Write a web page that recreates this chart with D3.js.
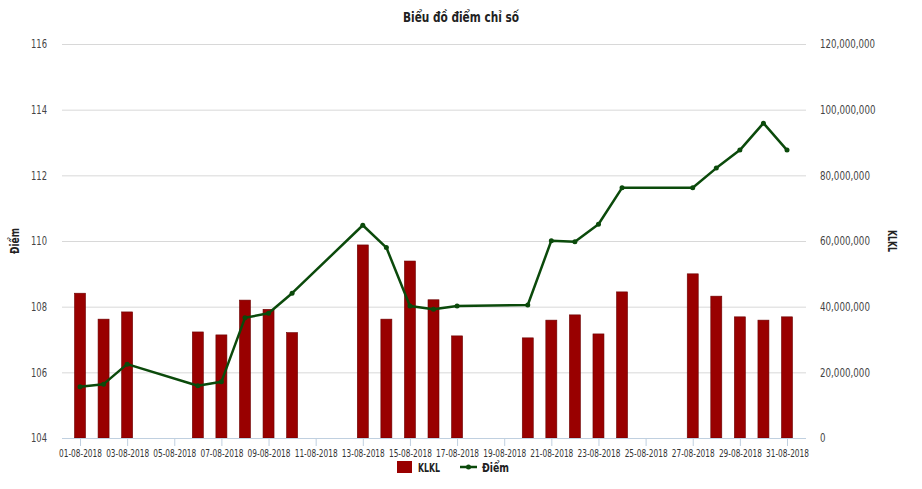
<!DOCTYPE html>
<html><head><meta charset="utf-8">
<script src="https://cdn.jsdelivr.net/npm/d3@7"></script>
<style>
body{margin:0;background:#fff;}
text{font-family:"DejaVu Sans Condensed","DejaVu Sans",sans-serif;font-stretch:condensed;}
</style></head>
<body><svg id="c" width="922" height="489"></svg>
<script>
const dates = ["01-08-2018","02-08-2018","03-08-2018","06-08-2018","07-08-2018","08-08-2018","09-08-2018","10-08-2018",
  "13-08-2018","14-08-2018","15-08-2018","16-08-2018","17-08-2018","20-08-2018","21-08-2018","22-08-2018","23-08-2018",
  "24-08-2018","27-08-2018","28-08-2018","29-08-2018","30-08-2018","31-08-2018"];
const volumes = [44.1,36.2,38.4,32.3,31.4,42.0,39.2,32.1,58.8,36.2,53.9,42.1,31.1,30.5,35.9,37.5,31.7,44.5,50.0,43.2,36.9,35.9,36.9].map(v=>v*1e6);
const points = [105.56,105.64,106.25,105.59,105.71,107.66,107.80,108.41,110.48,109.80,108.02,107.92,108.02,108.05,110.01,109.98,110.51,111.62,111.62,112.22,112.77,113.59,112.77];
const xTickLabels = ["01-08-2018","03-08-2018","05-08-2018","07-08-2018","09-08-2018","11-08-2018","13-08-2018","15-08-2018",
  "17-08-2018","19-08-2018","21-08-2018","23-08-2018","25-08-2018","27-08-2018","29-08-2018","31-08-2018"];
const leftTicks = [104,106,108,110,112,114,116];
const rightTicks = [0,20e6,40e6,60e6,80e6,100e6,120e6];

const parse = d3.timeParse("%d-%m-%Y");
const svg = d3.select("#c");
const L = 62, R = 806, T = 44, B = 438;
const x = d3.scaleTime().domain([parse("01-08-2018"), parse("31-08-2018")]).range([80, 787]);
const yL = d3.scaleLinear().domain([104,116]).range([B,T]);
const yR = d3.scaleLinear().domain([0,120e6]).range([B,T]);

// horizontally condense texts with a scale transform (k from first element's target width)
function condense(sel, targetFirst){
  const nodes = sel.nodes();
  if(!nodes.length) return;
  const k = targetFirst / nodes[0].getComputedTextLength();
  nodes.forEach(n=>{
    const tx = +n.getAttribute("x") || 0, ty = +n.getAttribute("y") || 0;
    const prev = n.getAttribute("transform") || "";
    n.setAttribute("x",0); n.setAttribute("y",0);
    n.setAttribute("transform", `${prev} translate(${tx},${ty}) scale(${k.toFixed(4)},1)`);
  });
}

// title
const title = svg.append("text").attr("x",461).attr("y",22).attr("text-anchor","middle")
  .attr("font-size",14).attr("font-weight","bold").attr("fill","#222").text("Biểu đồ điểm chỉ số");
condense(title, 116);

// gridlines
svg.append("g").selectAll("line").data(leftTicks).join("line")
  .attr("x1",L).attr("x2",R).attr("y1",d=>yL(d)+0.5).attr("y2",d=>yL(d)+0.5)
  .attr("stroke","#d8d8d8").attr("stroke-width",1);

// left axis
const gl = svg.append("g").attr("transform",`translate(${L},0)`)
  .call(d3.axisLeft(yL).tickValues(leftTicks).tickSize(0).tickPadding(15).tickFormat(d3.format("d")));
gl.select(".domain").remove();
gl.selectAll("text").attr("font-size",12).attr("fill","#444").attr("font-family",null);
condense(gl.selectAll("text"), 16);

// right axis
const gr = svg.append("g").attr("transform",`translate(${R},0)`)
  .call(d3.axisRight(yR).tickValues(rightTicks).tickSize(0).tickPadding(14).tickFormat(d3.format(",")));
gr.select(".domain").remove();
gr.selectAll("text").attr("font-size",12).attr("fill","#444").attr("font-family",null);
condense(gr.selectAll("text").filter(d=>d===120e6), 55);
condense(gr.selectAll("text").filter(d=>d!==120e6 && d!==0), 50);
condense(gr.selectAll("text").filter(d=>d===0), 5.5);

// axis titles
const t1 = svg.append("text").attr("transform","translate(19,241) rotate(-90)").attr("text-anchor","middle")
  .attr("font-size",13).attr("font-weight","bold").attr("fill","#222").text("Điểm");
condense(t1, 26);
const t2 = svg.append("text").attr("transform","translate(888,241) rotate(90)").attr("text-anchor","middle")
  .attr("font-size",13).attr("font-weight","bold").attr("fill","#222").text("KLKL");
condense(t2, 22);

// bars
const bw = 11;
svg.append("g").selectAll("rect").data(dates).join("rect")
  .attr("x",(d)=>x(parse(d))-bw/2).attr("y",(d,i)=>yR(volumes[i]))
  .attr("width",bw).attr("height",(d,i)=>B-yR(volumes[i]))
  .attr("fill","#990000").attr("stroke","#6b0000").attr("stroke-width",0.6);

// x axis
const gx = svg.append("g").attr("transform",`translate(0,${B})`)
  .call(d3.axisBottom(x).tickValues(xTickLabels.map(parse)).tickSize(8).tickPadding(3).tickFormat(d3.timeFormat("%d-%m-%Y")));
gx.select(".domain").attr("d",`M${L},0.5H${R}`).attr("stroke","#c0d0e0");
gx.selectAll(".tick line").attr("stroke","#c0d0e0");
gx.selectAll("text").attr("font-size",11).attr("fill","#333").attr("font-family",null);
condense(gx.selectAll("text"), 43);

// line
const line = d3.line().x((d,i)=>x(parse(dates[i]))).y(d=>yL(d));
svg.append("path").datum(points).attr("d",line).attr("fill","none")
  .attr("stroke","#0b4a0b").attr("stroke-width",2.5).attr("stroke-linejoin","round");
svg.append("g").selectAll("circle").data(points).join("circle")
  .attr("cx",(d,i)=>x(parse(dates[i]))).attr("cy",d=>yL(d)).attr("r",2.5).attr("fill","#0b4a0b");

// legend
const lg = svg.append("g");
lg.append("rect").attr("x",397).attr("y",461).attr("width",15).attr("height",12).attr("fill","#990000");
condense(lg.append("text").attr("x",418).attr("y",472).attr("font-size",13).attr("font-weight","bold").attr("fill","#222").text("KLKL"), 22);
lg.append("line").attr("x1",460).attr("x2",477).attr("y1",467).attr("y2",467).attr("stroke","#0b4a0b").attr("stroke-width",2.5);
lg.append("circle").attr("cx",468.5).attr("cy",467).attr("r",2.5).attr("fill","#0b4a0b");
condense(lg.append("text").attr("x",482).attr("y",472).attr("font-size",13).attr("font-weight","bold").attr("fill","#222").text("Điểm"), 27);
</script></body></html>
